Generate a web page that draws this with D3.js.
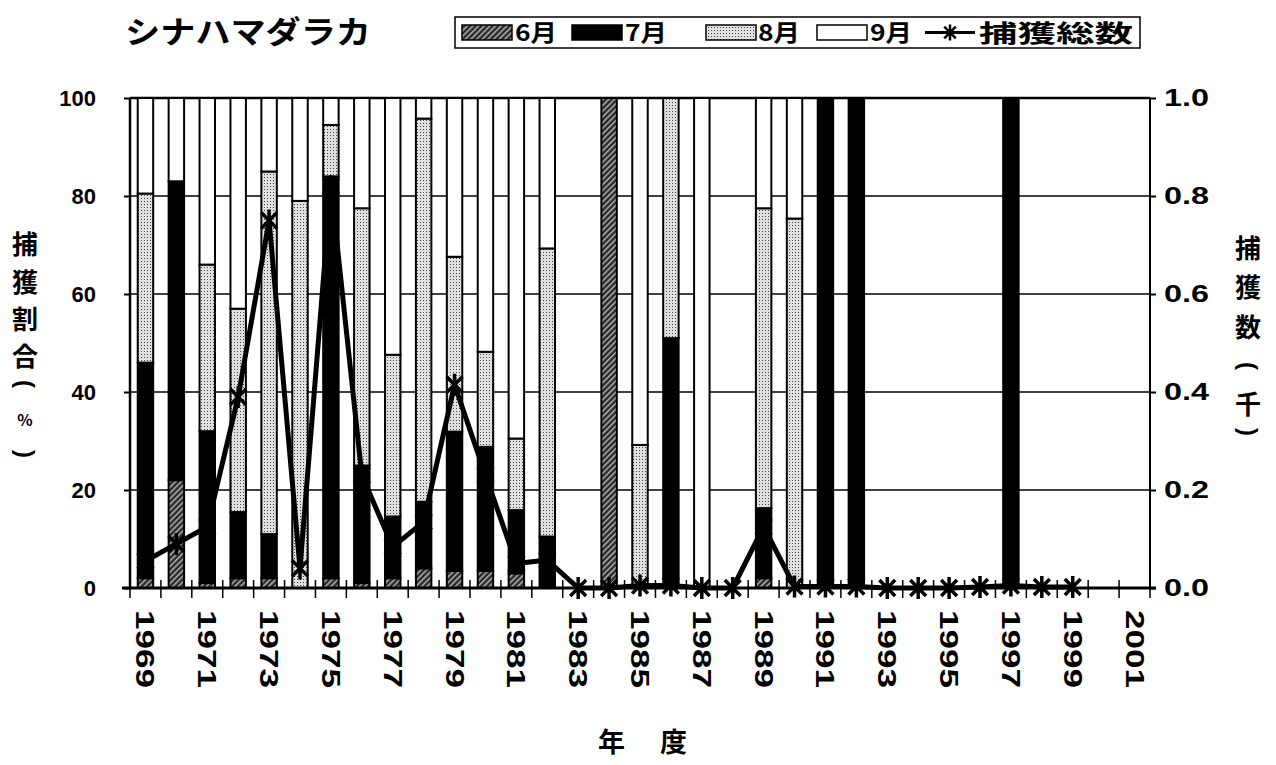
<!DOCTYPE html>
<html>
<head>
<meta charset="utf-8">
<script src="https://cdn.jsdelivr.net/npm/d3@7"></script>
<style>
  html, body { margin: 0; padding: 0; background: #fff; }
  svg { display: block; }
  .num { font-family: "Liberation Sans", Arial, sans-serif; font-weight: bold; }
  .jp { font-family: "Noto Sans CJK JP", sans-serif; font-weight: bold; }
</style>
</head>
<body>
<svg id="chart" width="1276" height="765"></svg>
<script>
// Survey years (fiscal year)
const years = d3.range(1969, 2002);
// Monthly share of catch (%), stacked June → September
const jun = [2, 22, 1, 2, 2, 0, 2, 1, 2, 4, 3.5, 3.5, 3, 0, 0, 100, 0, 0, 0, 0, 2, 0, 0, 0, 0, 0, 0, 0, 0, 0, 0, 0, 0];
const jul = [44, 61, 31, 13.5, 9, 0, 82, 24, 12.6, 13.6, 28.4, 25.3, 12.9, 10.5, 0, 0, 0, 51, 0, 0, 14.3, 0, 100, 100, 0, 0, 0, 0, 100, 0, 0, 0, 0];
const aug = [34.5, 0, 34, 41.5, 74, 79, 10.5, 52.5, 33, 78.2, 35.7, 19.4, 14.6, 58.8, 0, 0, 29.2, 49, 0, 0, 61.2, 75.4, 0, 0, 0, 0, 0, 0, 0, 0, 0, 0, 0];
const sep = [19.5, 17, 34, 43, 15, 21, 5.5, 22.5, 52.4, 4.2, 32.4, 51.8, 69.5, 30.7, 0, 0, 70.8, 0, 100, 0, 22.5, 24.6, 0, 0, 0, 0, 0, 0, 0, 0, 0, 0, 0];
// Total catch (thousands); no record after 1999
const total = [0.055, 0.09, 0.125, 0.39, 0.75, 0.04, 0.82, 0.23, 0.084, 0.135, 0.415, 0.23, 0.05, 0.057, 0, 0, 0.005, 0.005, 0, 0, 0.125, 0.003, 0.003, 0.003, 0, 0, 0, 0.002, 0.005, 0.002, 0.002, null, null];
const leftTicks = [0, 20, 40, 60, 80, 100];
const rightTicks = [0, 0.2, 0.4, 0.6, 0.8, 1.0];
const monthKeys = ["6月", "7月", "8月", "9月"];
const monthSeries = [jun, jul, aug, sep];

const svg = d3.select("#chart");
const L = 130, R = 1150, T = 98, B = 588;

// Fill patterns for the months
const defs = svg.append("defs");
const hatch = defs.append("pattern").attr("id", "p6").attr("patternUnits", "userSpaceOnUse")
  .attr("width", 4).attr("height", 4).attr("patternTransform", "rotate(45)");
hatch.append("rect").attr("width", 4).attr("height", 4).attr("fill", "#2a2a2a");
hatch.append("rect").attr("x", 0).attr("width", 1.4).attr("height", 4).attr("fill", "#bbb");
const dots = defs.append("pattern").attr("id", "p8").attr("patternUnits", "userSpaceOnUse")
  .attr("width", 3).attr("height", 3);
dots.append("rect").attr("width", 3).attr("height", 3).attr("fill", "#e0e0e0");
dots.append("rect").attr("width", 1).attr("height", 1).attr("fill", "#444");
const fills = { "6月": "url(#p6)", "7月": "#000", "8月": "url(#p8)", "9月": "#fff" };

const x = d3.scaleBand().domain(years).range([L, R]).paddingInner(0.5).paddingOuter(0.25);
const y = d3.scaleLinear().domain([0, 100]).range([B, T]);
const yR = d3.scaleLinear().domain([0, 1]).range([B, T]);

// Horizontal gridlines
svg.append("g").selectAll("line").data(leftTicks.filter(d => d > 0)).join("line")
  .attr("x1", L).attr("x2", R).attr("y1", d => y(d)).attr("y2", d => y(d))
  .attr("stroke", "#000").attr("stroke-width", d => d === 100 ? 2.5 : 1.5);

// Stacked bars
const rows = years.map((yr, i) => {
  const r = { year: yr };
  monthKeys.forEach((k, j) => r[k] = monthSeries[j][i]);
  return r;
});
const stacked = d3.stack().keys(monthKeys)(rows);
svg.append("g").selectAll("g").data(stacked).join("g")
  .attr("fill", s => fills[s.key])
  .selectAll("rect").data(s => s.filter(d => d[1] - d[0] > 0)).join("rect")
  .attr("x", d => x(d.data.year))
  .attr("width", x.bandwidth())
  .attr("y", d => y(d[1]))
  .attr("height", d => y(d[0]) - y(d[1]))
  .attr("stroke", "#000").attr("stroke-width", 2);

// Frame: left and right axis lines
svg.append("line").attr("x1", L).attr("x2", L).attr("y1", T).attr("y2", B).attr("stroke", "#000").attr("stroke-width", 2.5);
svg.append("line").attr("x1", R).attr("x2", R).attr("y1", T).attr("y2", B).attr("stroke", "#000").attr("stroke-width", 2);

// Left axis
const gL = svg.append("g").attr("transform", `translate(${L},0)`)
  .call(d3.axisLeft(y).tickValues(leftTicks).tickSize(6).tickPadding(28).tickFormat(d3.format("d")));
gL.select(".domain").remove();
gL.selectAll("line").attr("stroke-width", 2);
gL.selectAll("text").attr("class", "num").attr("font-size", 22).attr("fill", "#000");

// Right axis
const gR = svg.append("g").attr("transform", `translate(${R},0)`)
  .call(d3.axisRight(yR).tickValues(rightTicks).tickSize(6).tickPadding(8).tickFormat(d3.format(".1f")));
gR.select(".domain").remove();
gR.selectAll("line").attr("stroke-width", 2);
gR.selectAll("text").attr("class", "num").attr("font-size", 23).attr("fill", "#000")
  .attr("textLength", 45).attr("lengthAdjust", "spacingAndGlyphs");

// Category axis: ticks between bars crossing the baseline
const gap = (x.step() - x.bandwidth()) / 2;
const bounds = years.map(yr => x(yr) - gap).concat([x(years[years.length - 1]) + x.bandwidth() + gap]);
svg.append("g").selectAll("line").data(bounds).join("line")
  .attr("x1", d => d).attr("x2", d => d).attr("y1", B - 8).attr("y2", B + 10)
  .attr("stroke", "#000").attr("stroke-width", 1.5);
svg.append("line").attr("x1", L - 8).attr("x2", R + 6).attr("y1", B).attr("y2", B).attr("stroke", "#000").attr("stroke-width", 3);

// Year labels, odd years, rotated
svg.append("g").selectAll("text").data(years.filter(yr => yr % 2 === 1)).join("text")
  .attr("class", "num").attr("font-size", 25)
  .attr("transform", yr => `translate(${x(yr) + x.bandwidth() / 2 - 9},610) rotate(90)`)
  .attr("textLength", 78).attr("lengthAdjust", "spacingAndGlyphs")
  .text(yr => yr);

// Total catch line with asterisk markers
const starPath = r => {
  const a = r * 0.72;
  return `M0,${-r}L0,${r}M${-a},${-a}L${a},${a}M${-a},${a}L${a},${-a}`;
};
const pts = years.map((yr, i) => ({ year: yr, v: total[i] })).filter(d => d.v !== null);
svg.append("path").datum(pts)
  .attr("fill", "none").attr("stroke", "#000").attr("stroke-width", 5).attr("stroke-linejoin", "round")
  .attr("d", d3.line().x(d => x(d.year) + x.bandwidth() / 2).y(d => yR(d.v)));
svg.append("g").selectAll("path").data(pts).join("path")
  .attr("transform", d => `translate(${x(d.year) + x.bandwidth() / 2},${yR(d.v)})`)
  .attr("d", starPath(11)).attr("stroke", "#000").attr("stroke-width", 3.5).attr("fill", "none");

// Title
svg.append("text").attr("class", "jp").attr("x", 125).attr("y", 43).attr("font-size", 31)
  .attr("textLength", 246).attr("lengthAdjust", "spacingAndGlyphs").text("シナハマダラカ");

// Legend
const lg = svg.append("g");
lg.append("rect").attr("x", 455).attr("y", 17).attr("width", 685).attr("height", 31)
  .attr("fill", "#fff").attr("stroke", "#000").attr("stroke-width", 1.5);
const legendItems = [
  { key: "6月", sx: 462, tx: 515 },
  { key: "7月", sx: 572, tx: 625 },
  { key: "8月", sx: 706, tx: 758 },
  { key: "9月", sx: 817, tx: 870 }
];
legendItems.forEach(it => {
  lg.append("rect").attr("x", it.sx).attr("y", 25).attr("width", 50).attr("height", 15)
    .attr("fill", fills[it.key]).attr("stroke", "#000").attr("stroke-width", 1.5);
  lg.append("text").attr("class", "jp").attr("x", it.tx).attr("y", 41).attr("font-size", 23)
    .attr("textLength", 42).attr("lengthAdjust", "spacingAndGlyphs").text(it.key);
});
lg.append("line").attr("x1", 925).attr("x2", 975).attr("y1", 32.5).attr("y2", 32.5).attr("stroke", "#000").attr("stroke-width", 3);
lg.append("path").attr("transform", "translate(950,32.5)").attr("d", starPath(8))
  .attr("stroke", "#000").attr("stroke-width", 2.5).attr("fill", "none");
lg.append("text").attr("class", "jp").attr("x", 979).attr("y", 42).attr("font-size", 24)
  .attr("textLength", 154).attr("lengthAdjust", "spacingAndGlyphs").text("捕獲総数");

// Vertical axis titles: stacked characters, brackets turned for vertical writing
const vTitle = (items, cx) => {
  const g = svg.append("g");
  items.forEach(it => {
    if (it.turn) {
      g.append("text").attr("class", "num").attr("font-size", 24)
        .attr("text-anchor", "middle").attr("dominant-baseline", "central")
        .attr("transform", `translate(${cx},${it.y}) rotate(90)`).text(it.t);
    } else {
      g.append("text").attr("class", "jp").attr("font-size", it.size || 26)
        .attr("text-anchor", "middle").attr("x", cx).attr("y", it.y).text(it.t);
    }
  });
};
vTitle([
  { t: "捕", y: 254 }, { t: "獲", y: 292 }, { t: "割", y: 329 }, { t: "合", y: 366 },
  { t: "(", y: 384, turn: true }, { t: "%", y: 426, size: 16 }, { t: ")", y: 454, turn: true }
], 25);
vTitle([
  { t: "捕", y: 258 }, { t: "獲", y: 297 }, { t: "数", y: 337 },
  { t: "(", y: 366, turn: true }, { t: "千", y: 414 }, { t: ")", y: 432, turn: true }
], 1248);

// Category axis title
svg.append("text").attr("class", "jp").attr("x", 598).attr("y", 752).attr("font-size", 27).text("年");
svg.append("text").attr("class", "jp").attr("x", 660).attr("y", 752).attr("font-size", 27).text("度");
</script>
</body>
</html>
